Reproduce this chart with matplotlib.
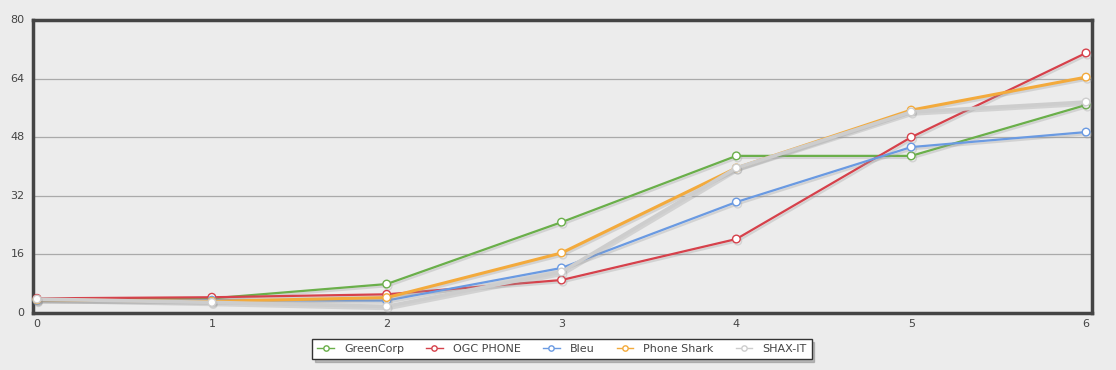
import matplotlib.pyplot as plt
import matplotlib.patheffects as pe

x = [0, 1, 2, 3, 4, 5, 6]
green_corp = [3.8, 4.0, 7.9, 24.8, 42.9, 42.9, 56.8]
ogc_phone = [4.0, 4.3, 5.1, 9.0, 20.2, 48.0, 71.0]
bleu = [3.4, 3.5, 3.4, 12.3, 30.3, 45.3, 49.4]
phone_shark = [3.6, 3.2, 4.2, 16.4, 39.6, 55.4, 64.4]
shax_it = [3.8, 2.9, 1.8, 11.2, 39.6, 54.9, 57.6]

names = ['GreenCorp', 'OGC PHONE', 'Bleu', 'Phone Shark', 'SHAX-IT']
series = [green_corp, ogc_phone, bleu, phone_shark, shax_it]
colors = ['#6aaf4a', '#d6414b', '#6a9ae2', '#f3aa3c', '#cdcdcd']
widths = [1.6, 1.6, 1.6, 2.2, 2.6]
y_ticks = [0, 16, 32, 48, 64, 80]

bg = '#ececec'
fig = plt.figure(figsize=(11.16, 3.70), dpi=100, facecolor=bg)
ax = fig.add_axes([33 / 1116, 57 / 370, 1059 / 1116, 293 / 370], facecolor=bg)

shadow = [pe.SimpleLineShadow(offset=(1, -1.5), shadow_color='#999999', alpha=0.3), pe.Normal()]
for name, vals, c, lw in zip(names, series, colors, widths):
    ax.plot(x, vals, color=c, lw=lw, marker='o', ms=5.5, mfc='white', mec=c, mew=1.0,
            label=name, path_effects=shadow, zorder=3, clip_on=False)

ax.set_xlim(-0.023, 6.034)
ax.set_ylim(0, 80)
ax.set_yticks(y_ticks)
ax.set_xticks(x)
ax.grid(axis='y', color='#aaaaaa', lw=0.9)
ax.set_axisbelow(True)
for s in ax.spines.values():
    s.set_color('#444444')
    s.set_linewidth(2.5)
ax.tick_params(length=0, labelsize=8, colors='#444444', pad=4)
ax.tick_params(axis='y', pad=6)
for lab in ax.get_yticklabels():
    lab.set_verticalalignment('center')

leg = ax.legend(loc='upper center', bbox_to_anchor=(0.4995, -0.089), ncol=5, frameon=True,
                fontsize=8, handlelength=1.5, handletextpad=0.9, columnspacing=2.0,
                borderpad=0.45, borderaxespad=0, fancybox=False,
                shadow={'ox': 2, 'oy': -2, 'color': '#888888'}, markerscale=0.7)
leg.get_frame().set_edgecolor('#333333')
leg.get_frame().set_facecolor('white')
leg.get_frame().set_linewidth(1.0)
for h in leg.get_lines():
    h.set_linewidth(1.0)
    h.set_path_effects([])
for t in leg.get_texts():
    t.set_color('#444444')

fig.savefig('out.png', dpi=100, facecolor=bg)
